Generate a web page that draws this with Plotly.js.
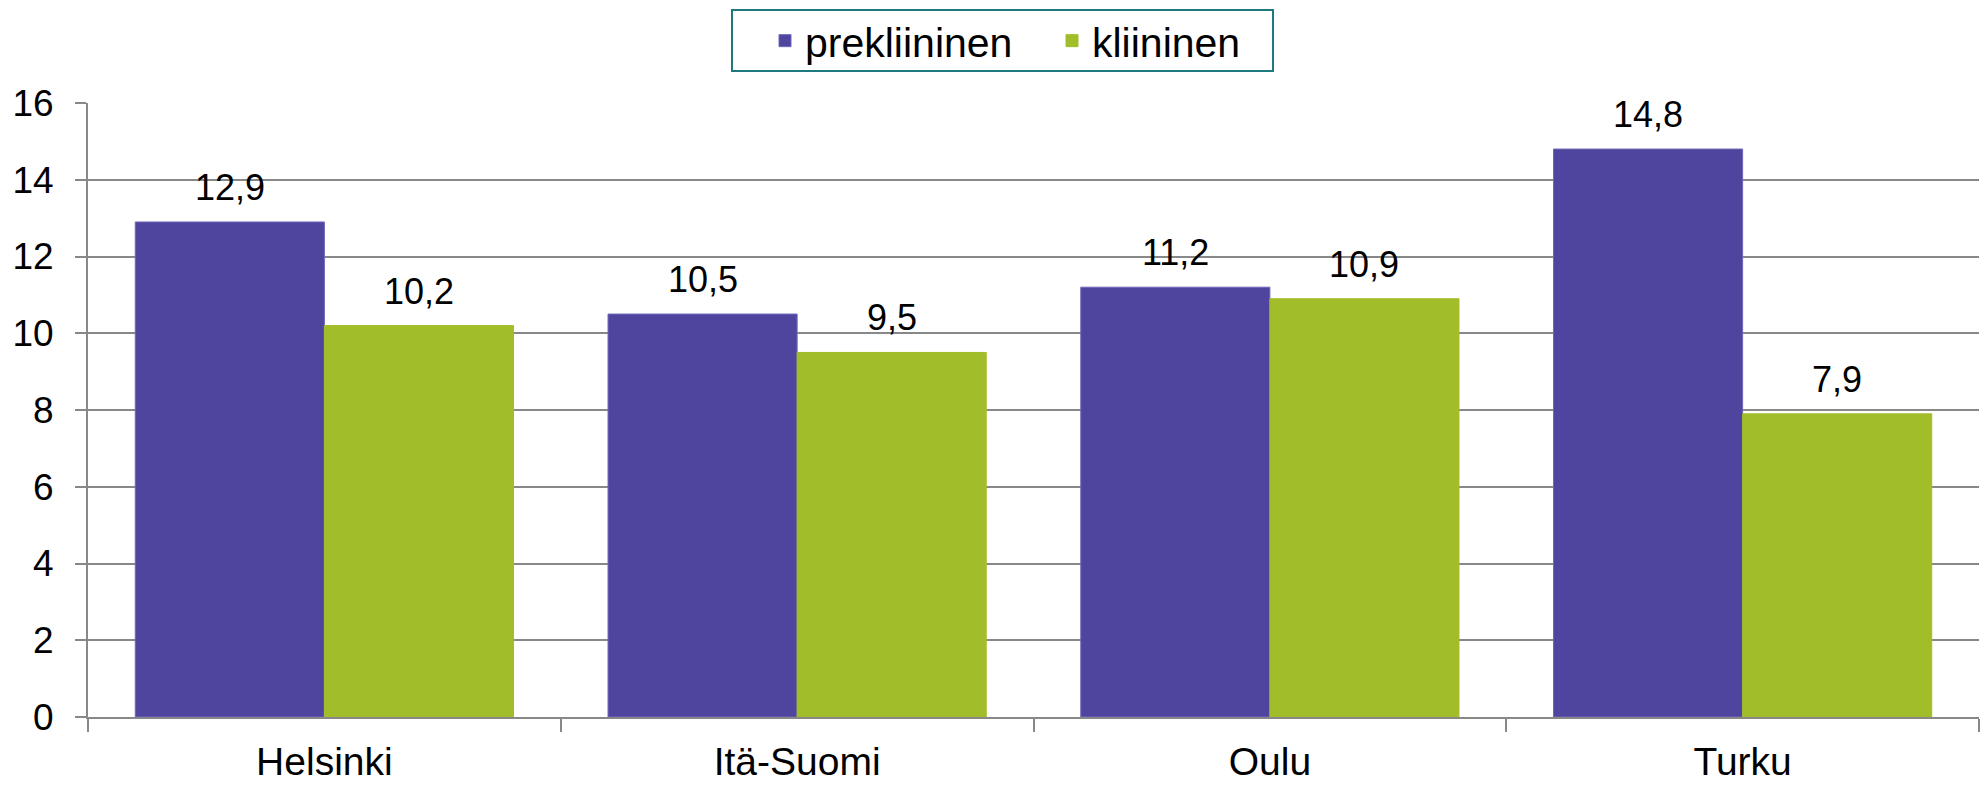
<!DOCTYPE html>
<html>
<head>
<meta charset="utf-8">
<script src="https://cdn.plot.ly/plotly-3.0.1.min.js"></script>
<style>html,body{margin:0;padding:0;background:#fff;}#chart{width:1986px;height:785px;}</style>
</head>
<body>
<div id="chart"></div>
<script>
const categories = ["Helsinki", "Itä-Suomi", "Oulu", "Turku"];
const prekliininen = [12.9, 10.5, 11.2, 14.8];
const kliininen = [10.2, 9.5, 10.9, 7.9];
const seriesNames = ["prekliininen", "kliininen"];
const yTicks = [0, 2, 4, 6, 8, 10, 12, 14, 16];

const FONT = "Liberation Sans, Arial, sans-serif";
const fmt = v => v.toFixed(1).replace(".", ",");

const traces = [
  {type: "bar", name: seriesNames[0], x: categories, y: prekliininen,
   marker: {color: "#4F459F", line: {color: "#6E66B8", width: 1}}, hoverinfo: "none"},
  {type: "bar", name: seriesNames[1], x: categories, y: kliininen,
   marker: {color: "#A2BD2A", line: {color: "#A2BD2A", width: 1}}, hoverinfo: "none"}
];

const annotations = [];
[prekliininen, kliininen].forEach((vals, si) => {
  vals.forEach((v, i) => {
    annotations.push({
      x: categories[i], y: v, xref: "x", yref: "y",
      text: fmt(v), showarrow: false, xanchor: "center", yanchor: "bottom",
      xshift: si === 0 ? -94.5 : 94.5, yshift: 12,
      font: {family: FONT, size: 36, color: "#000"}
    });
  });
});

// plot area in px: x 88..1979, y 103..717
const px = v => (v - 88) / 1891;
const py = v => (717 - v) / 614;

const layout = {
  width: 1986, height: 785,
  margin: {l: 88, r: 7, t: 103, b: 68, pad: 0},
  paper_bgcolor: "#fff", plot_bgcolor: "#fff",
  barmode: "group", bargap: 0.2, bargroupgap: 0,
  font: {family: FONT, size: 36, color: "#000"},
  showlegend: true,
  legend: {orientation: "h", x: px(765), xanchor: "left", y: py(41), yanchor: "middle",
           borderwidth: 0, bgcolor: "rgba(0,0,0,0)", entrywidth: 242, entrywidthmode: "pixels",
           font: {family: FONT, size: 41, color: "#000"}, traceorder: "normal"},
  shapes: [{type: "rect", xref: "paper", yref: "paper", x0: px(732), x1: px(1273), y0: py(71), y1: py(10),
            line: {color: "#1F7A80", width: 2}, fillcolor: "rgba(0,0,0,0)", layer: "below"}],
  xaxis: {type: "category", tickson: "boundaries", ticks: "outside", ticklen: 13, tickwidth: 2,
          tickcolor: "#888", showline: true, linecolor: "#888", linewidth: 2,
          showgrid: false, zeroline: false, ticklabelstandoff: 9,
          tickfont: {family: FONT, size: 39, color: "#000"}},
  yaxis: {range: [0, 16], tickvals: yTicks, ticktext: yTicks.map(String), ticks: "outside", ticklen: 11,
          tickwidth: 2, tickcolor: "#888", showline: true, linecolor: "#888", linewidth: 2,
          showgrid: true, gridcolor: "#888", gridwidth: 2, zeroline: false, ticklabelstandoff: 14,
          tickfont: {family: FONT, size: 37, color: "#000"}},
  annotations: annotations
};

Plotly.newPlot("chart", traces, layout, {displayModeBar: false, staticPlot: true});
</script>
</body>
</html>
